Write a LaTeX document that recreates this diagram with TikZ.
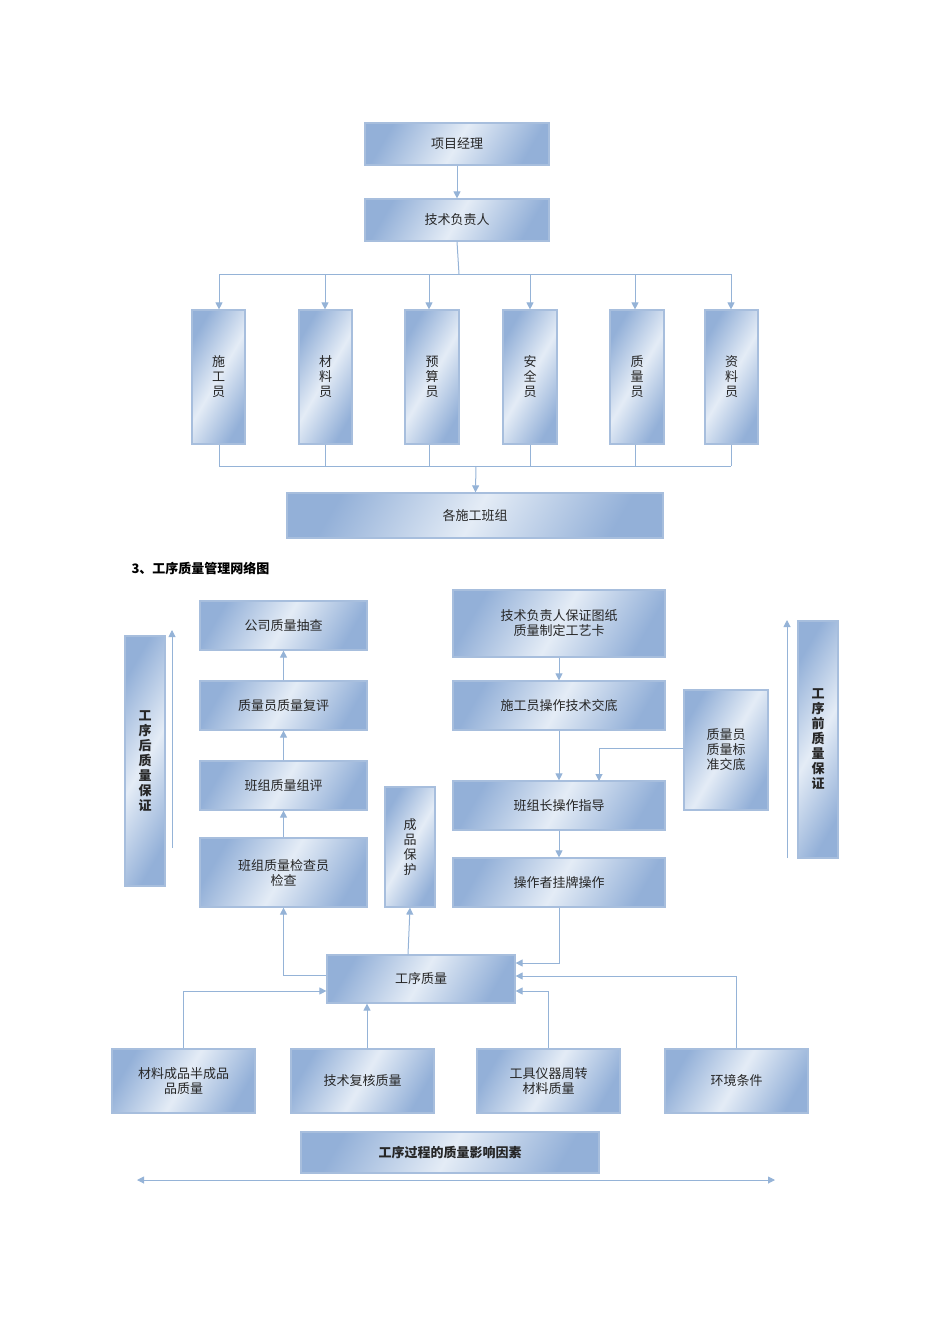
\documentclass[tikz,border=0pt]{standalone}
\usepackage{fontspec}
\setmainfont{Noto Sans CJK SC}
\usetikzlibrary{arrows.meta}
\definecolor{bd}{HTML}{A7BEDD}
\definecolor{dk}{HTML}{93B0D8}
\definecolor{lt}{HTML}{E4ECF6}
\definecolor{ln}{HTML}{95B3D7}
\tikzset{
 bx/.style={draw=bd,line width=1.2pt,left color=dk,right color=dk,middle color=lt,shading angle=60,font=\fontsize{13}{15}\selectfont,align=center,inner sep=0pt,text=black!85},
 cn/.style={draw=ln,line width=1pt},
 ar/.style={cn,-{Triangle[width=7pt,length=7pt]}},
}
\newcommand\B[6]{\node[bx,minimum width=#3-#2,minimum height=#5-#4] (#1) at ({(#2+#3)/2},{(#4+#5)/2}) {#6};}
\begin{document}
\begin{tikzpicture}[x=1pt,y=-1pt]
\useasboundingbox (0,0) rectangle (950,1344);
\B{pm}{365}{549}{123}{165}{项目经理}
\B{tf}{365}{549}{199}{241}{技术负责人}
\B{a1}{192}{245}{310}{444}{施\\工\\员}
\B{a2}{299}{352}{310}{444}{材\\料\\员}
\B{a3}{405}{459}{310}{444}{预\\算\\员}
\B{a4}{503}{557}{310}{444}{安\\全\\员}
\B{a5}{610}{664}{310}{444}{质\\量\\员}
\B{a6}{705}{758}{310}{444}{资\\料\\员}
\B{bz}{287}{663}{493}{538}{各施工班组}
\draw[ar] (pm) -- (tf);
\coordinate (j1) at (459,274);
\coordinate (j2) at (476,466);
\draw[cn] (tf.south) -- (j1);
\draw[cn] (219,274) -- (731,274);
\draw[cn] (219,466) -- (731,466);
\foreach \n/\x in {a1/219,a2/325,a3/429,a4/530,a5/635,a6/731}{
 \draw[ar] (\x,274) -- (\n.north -| \x,0);
 \draw[cn] (\n.south -| \x,0) -- (\x,466);
}
\draw[ar] (j2) -- (bz);
\node[anchor=west,font=\bfseries\fontsize{13}{15}\selectfont] (ttl) at (128,568) {3、工序质量管理网络图};
\B{c1}{200}{367}{601}{650}{公司质量抽查}
\B{c2}{200}{367}{681}{730}{质量员质量复评}
\B{c3}{200}{367}{761}{810}{班组质量组评}
\B{c4}{200}{367}{838}{907}{班组质量检查员\\检查}
\B{cp}{385}{435}{787}{907}{成\\品\\保\\护}
\B{r1}{453}{665}{590}{657}{技术负责人保证图纸\\质量制定工艺卡}
\B{r2}{453}{665}{681}{730}{施工员操作技术交底}
\B{qs}{684}{768}{690}{810}{质量员\\质量标\\准交底}
\B{r3}{453}{665}{781}{830}{班组长操作指导}
\B{r4}{453}{665}{858}{907}{操作者挂牌操作}
\B{lh}{125}{165}{636}{886}{\bfseries 工\\\bfseries 序\\\bfseries 后\\\bfseries 质\\\bfseries 量\\\bfseries 保\\\bfseries 证}
\B{rq}{798}{838}{621}{858}{\bfseries 工\\\bfseries 序\\\bfseries 前\\\bfseries 质\\\bfseries 量\\\bfseries 保\\\bfseries 证}
\B{gq}{327}{515}{955}{1003}{工序质量}
\B{f1}{112}{255}{1049}{1113}{材料成品半成品\\品质量}
\B{f2}{291}{434}{1049}{1113}{技术复核质量}
\B{f3}{477}{620}{1049}{1113}{工具仪器周转\\材料质量}
\B{f4}{665}{808}{1049}{1113}{环境条件}
\B{ft}{301}{599}{1132}{1173}{\bfseries 工序过程的质量影响因素}
\draw[ar] (c4) -- (c3);
\draw[ar] (c3) -- (c2);
\draw[ar] (c2) -- (c1);
\draw[ar] (r1) -- (r2);
\draw[ar] (r2) -- (r3);
\draw[ar] (r3) -- (r4);
\draw[ar] (qs.west |- 0,748) -| (599,781);
\draw[ar] (gq.west |- 0,975) -| (c4.south);
\draw[ar] (gq.north -| 408,0) -- (cp.south);
\draw[ar] (r4.south) |- (gq.east |- 0,963);
\draw[ar] (f1.north) |- (gq.west |- 0,991);
\draw[ar] (f2.north -| 367,0) -- (gq.south -| 367,0);
\draw[ar] (f3.north) |- (gq.east |- 0,991);
\draw[ar] (f4.north) |- (gq.east |- 0,976);
\coordinate (u1) at (172,848); \coordinate (u2) at (172,630);
\draw[ar] (u1) -- (u2);
\coordinate (v1) at (787,858); \coordinate (v2) at (787,620);
\draw[ar] (v1) -- (v2);
\coordinate (h1) at (137,1180); \coordinate (h2) at (775,1180);
\draw[cn,{Triangle[width=7pt,length=7pt]}-{Triangle[width=7pt,length=7pt]}] (h1) -- (h2);
\end{tikzpicture}
\end{document}
